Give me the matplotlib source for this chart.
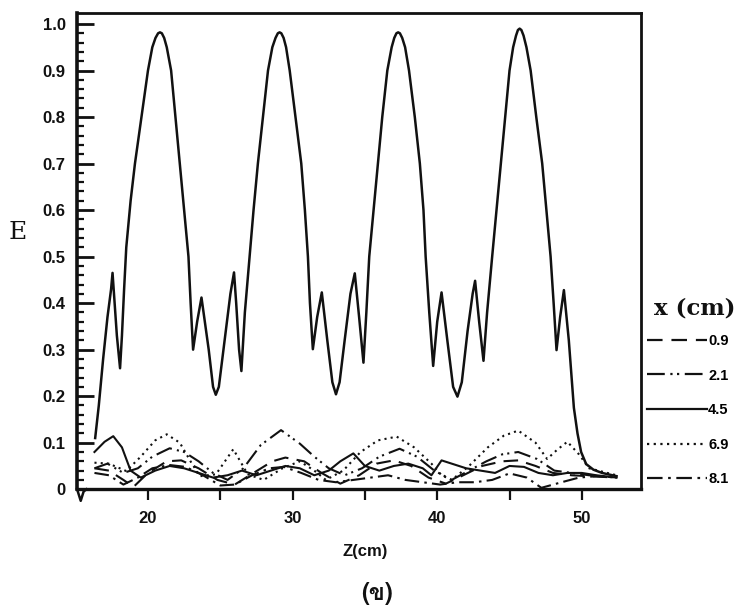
import matplotlib
matplotlib.use("Agg")
import matplotlib.pyplot as plt
from matplotlib.lines import Line2D
from matplotlib import font_manager, ft2font
import numpy as np

# ---------------- data ----------------
big_z = [16.35, 16.6, 16.9, 17.2, 17.45, 17.55, 17.65, 17.85, 18.07, 18.2, 18.35, 18.5, 18.8, 19.1, 19.55,
         20.0, 20.3, 20.52, 20.7, 20.83, 20.96, 21.12, 21.3, 21.6, 21.9, 22.2, 22.5, 22.8, 22.95, 23.12,
         23.4, 23.7, 24.2, 24.5, 24.69, 24.9, 25.3, 25.7, 25.95, 26.1, 26.3, 26.46, 26.7, 27.03, 27.3,
         27.6, 27.95, 28.3, 28.6, 28.82, 28.98, 29.1, 29.22, 29.38, 29.55, 29.8, 30.2, 30.6, 30.85, 31.06,
         31.2, 31.4, 31.7, 32.02, 32.4, 32.75, 33.0, 33.25, 33.6, 34.0, 34.3, 34.6, 34.9, 35.1, 35.3,
         35.6, 35.9, 36.2, 36.55, 36.85, 37.03, 37.18, 37.3, 37.42, 37.58, 37.78, 38.05, 38.45, 38.8,
         39.05, 39.2, 39.45, 39.72, 40.0, 40.3, 40.7, 41.1, 41.4, 41.7, 42.1, 42.45, 42.62, 42.9, 43.2,
         43.45, 43.8, 44.1, 44.4, 44.7, 45.0, 45.25, 45.45, 45.58, 45.7, 45.82, 45.97, 46.17, 46.46,
         46.85, 47.26, 47.55, 47.84, 48.05, 48.25, 48.5, 48.76, 49.1, 49.45, 49.7, 49.95, 50.3, 50.8,
         51.4, 52.4]
big_E = [0.11, 0.18, 0.28, 0.37, 0.43, 0.465, 0.42, 0.33, 0.26, 0.33, 0.43, 0.52, 0.62, 0.70, 0.80,
         0.90, 0.95, 0.97, 0.98, 0.982, 0.98, 0.97, 0.95, 0.90, 0.80, 0.70, 0.60, 0.50, 0.40, 0.30,
         0.36, 0.412, 0.30, 0.22, 0.203, 0.22, 0.32, 0.42, 0.466, 0.40, 0.30, 0.254, 0.38, 0.50, 0.60,
         0.70, 0.80, 0.90, 0.95, 0.97, 0.98, 0.982, 0.98, 0.97, 0.95, 0.90, 0.80, 0.70, 0.60, 0.50,
         0.40, 0.301, 0.37, 0.423, 0.32, 0.23, 0.204, 0.23, 0.32, 0.42, 0.464, 0.37, 0.272, 0.38, 0.50,
         0.60, 0.70, 0.80, 0.90, 0.95, 0.97, 0.98, 0.982, 0.98, 0.97, 0.95, 0.90, 0.80, 0.70,
         0.60, 0.50, 0.38, 0.265, 0.36, 0.423, 0.32, 0.22, 0.199, 0.23, 0.34, 0.42, 0.448, 0.36, 0.276,
         0.38, 0.50, 0.60, 0.70, 0.80, 0.90, 0.95, 0.975, 0.987, 0.99, 0.987, 0.975, 0.95, 0.90,
         0.80, 0.70, 0.60, 0.50, 0.40, 0.299, 0.37, 0.428, 0.32, 0.175, 0.12, 0.08, 0.054, 0.042,
         0.035, 0.028]

origin_z = [15.1, 15.35, 15.55, 15.75]
origin_E = [0.0, -0.025, -0.005, 0.0]

# small curves (x positions in cm)
z09 = [16.3, 17.3, 18.3, 19.0, 20.0, 21.3, 22.3, 23.5, 24.8, 26.0, 27.3, 28.6, 29.5, 30.8, 32.0, 33.3,
       34.6, 35.8, 37.0, 38.2, 39.4, 40.6, 41.8, 43.1, 44.5, 45.6, 46.8, 48.0, 49.3, 50.5, 52.4]
E09 = [0.045, 0.040, 0.020, 0.005, 0.035, 0.060, 0.062, 0.045, 0.020, 0.010, 0.035, 0.060, 0.068,
       0.060, 0.035, 0.012, 0.030, 0.055, 0.062, 0.050, 0.025, 0.012, 0.030, 0.050, 0.060, 0.062,
       0.050, 0.035, 0.030, 0.028, 0.025]
z21 = [16.3, 17.2, 18.3, 19.3, 20.3, 21.5, 22.5, 23.5, 24.5, 25.5, 26.6, 27.8, 29.2, 30.5, 31.5, 32.5,
       33.6, 34.8, 36.0, 37.4, 38.6, 39.8, 41.0, 42.2, 43.4, 44.5, 45.6, 46.9, 48.1, 49.3, 50.5, 52.4]
E21 = [0.045, 0.055, 0.035, 0.045, 0.070, 0.088, 0.080, 0.060, 0.035, 0.020, 0.045, 0.095, 0.127,
       0.098, 0.070, 0.045, 0.030, 0.045, 0.070, 0.087, 0.070, 0.040, 0.020, 0.040, 0.060, 0.075,
       0.080, 0.065, 0.040, 0.035, 0.030, 0.025]
z45 = [16.3, 17.0, 17.6, 18.2, 18.8, 19.5, 20.5, 21.5, 22.5, 23.5, 24.5, 25.5, 26.5, 27.5, 28.5, 29.5,
       30.5, 31.5, 32.5, 33.3, 34.2, 35.0, 36.0, 37.0, 38.0, 39.0, 39.6, 40.3, 41.0, 42.0, 43.0, 44.0,
       45.0, 46.0, 47.0, 48.0, 49.0, 50.0, 51.0, 52.4]
E45 = [0.080, 0.102, 0.114, 0.090, 0.040, 0.025, 0.040, 0.050, 0.045, 0.035, 0.025, 0.030, 0.040,
       0.030, 0.040, 0.050, 0.045, 0.030, 0.040, 0.060, 0.077, 0.050, 0.040, 0.050, 0.055, 0.045,
       0.030, 0.062, 0.055, 0.045, 0.040, 0.035, 0.050, 0.048, 0.035, 0.030, 0.035, 0.035, 0.030, 0.025]
z69 = [16.3, 17.3, 18.5, 19.5, 20.5, 21.3, 22.2, 23.0, 23.6, 24.7, 25.9, 26.9, 28.0, 29.3, 30.5, 31.5,
       32.3, 33.5, 34.7, 35.9, 37.2, 38.4, 39.6, 40.3, 41.0, 42.2, 43.5, 44.6, 45.6, 46.8, 47.6, 48.3,
       49.0, 49.8, 50.5, 52.4]
E69 = [0.057, 0.055, 0.039, 0.070, 0.105, 0.118, 0.100, 0.057, 0.028, 0.032, 0.086, 0.032, 0.020,
       0.045, 0.060, 0.040, 0.020, 0.040, 0.080, 0.105, 0.113, 0.090, 0.055, 0.030, 0.020, 0.050,
       0.090, 0.115, 0.126, 0.100, 0.065, 0.085, 0.102, 0.075, 0.045, 0.030]
z81 = [16.3, 17.3, 18.3, 19.3, 20.3, 21.5, 22.6, 23.8, 25.0, 26.0, 27.2, 28.4, 29.4, 30.6, 31.8, 33.0,
       34.2, 35.4, 36.6, 37.8, 39.0, 40.2, 41.4, 42.6, 43.8, 45.0, 46.2, 47.2, 48.6, 49.8, 51.0, 52.4]
E81 = [0.035, 0.030, 0.010, 0.025, 0.045, 0.052, 0.048, 0.030, 0.008, 0.010, 0.030, 0.045, 0.048,
       0.035, 0.020, 0.015, 0.020, 0.025, 0.030, 0.020, 0.015, 0.010, 0.015, 0.015, 0.020, 0.034,
       0.025, 0.003, 0.015, 0.025, 0.028, 0.025]

legend_labels = ["0.9", "2.1", "4.5", "6.9", "8.1"]
x_ticks = [20, 25, 30, 35, 40, 45, 50]
x_ticklabels = ["20", "", "30", "", "40", "", "50"]
y_ticks = [0, 0.1, 0.2, 0.3, 0.4, 0.5, 0.6, 0.7, 0.8, 0.9, 1.0]
y_ticklabels = ["0", "0.1", "0.2", "0.3", "0.4", "0.5", "0.6", "0.7", "0.8", "0.9", "1.0"]

# ---------------- fonts ----------------
def find_font_with(ch):
    for f in font_manager.fontManager.ttflist:
        try:
            cm = ft2font.FT2Font(f.fname).get_charmap()
        except Exception:
            continue
        if ord(ch) in cm:
            return f.name
    return None

thai_font = find_font_with("\u0e02")

sans = "Liberation Sans"
serif = "DejaVu Serif"
plt.rcParams["font.family"] = [sans, "DejaVu Sans"]

# ---------------- figure ----------------
fig = plt.figure(figsize=(7.4, 6.1), dpi=100)
ax = fig.add_axes([0.104, 0.198, 0.762, 0.781])
ink = "#111111"

styles = {
    "0.9": (0, (7, 4)),
    "2.1": (0, (8, 2.5, 1, 2, 1, 2.5)),
    "4.5": "-",
    "6.9": (0, (1, 2)),
    "8.1": (0, (7, 2.5, 1.2, 2.5)),
}

ax.plot(big_z, big_E, color=ink, lw=1.8, solid_joinstyle="round", zorder=5)
ax.plot(origin_z, origin_E, color=ink, lw=1.8, clip_on=False, zorder=5)
series = [(z09, E09, "0.9"), (z21, E21, "2.1"), (z45, E45, "4.5"), (z69, E69, "6.9"), (z81, E81, "8.1")]
for zz, ee, lab in series:
    ax.plot(zz, ee, color=ink, lw=1.5, linestyle=styles[lab])

ax.set_xlim(15.09, 54.08)
ax.set_ylim(0, 1.024)

for side, w in [("left", 2.6), ("bottom", 2.4), ("top", 2.0), ("right", 2.0)]:
    ax.spines[side].set_linewidth(w)
    ax.spines[side].set_color(ink)

ax.set_xticks(x_ticks)
ax.set_xticklabels(x_ticklabels)
ax.set_yticks(y_ticks)
ax.set_yticklabels(y_ticklabels)
ax.set_yticks(np.arange(0, 1.0001, 0.02), minor=True)
ax.tick_params(axis="x", direction="out", length=8, width=1.6, pad=8, colors=ink,
               labelsize=12)
ax.tick_params(axis="y", which="major", direction="in", length=12, width=2.0, pad=8,
               colors=ink, labelsize=12)
ax.tick_params(axis="y", which="minor", direction="in", length=5, width=1.6, colors=ink)
for t in ax.get_xticklabels() + ax.get_yticklabels():
    t.set_fontweight("bold")

ax.set_xlabel("Z(cm)", fontsize=12, fontweight="bold", labelpad=9, color=ink)
ax.xaxis.set_label_coords(0.512, -0.115)
ax.set_ylabel("E", fontsize=18, family=serif, rotation=0, color=ink, ha="center", va="center")
ax.yaxis.set_label_coords(-0.105, 0.538)

fig.text(0.51, 0.008, "(\u0e02)", ha="center", va="bottom", fontsize=17, fontweight="bold",
         family=[thai_font or "DejaVu Sans", "DejaVu Sans"], color=ink)

fig.text(0.884, 0.495, "x (cm)", ha="left", va="center", fontsize=16.5, fontweight="bold",
         family=serif, color=ink)

handles = [Line2D([], [], color=ink, lw=1.6, linestyle=styles[l]) for l in legend_labels]
leg = ax.legend(handles, legend_labels, loc="upper left", bbox_to_anchor=(0.874, 0.4525),
                bbox_transform=fig.transFigure, frameon=False, handlelength=4.1,
                handletextpad=0.1, labelspacing=1.41, borderpad=0, borderaxespad=0,
                prop={"family": sans, "weight": "bold", "size": 10.5})

fig.savefig("out.png", dpi=100, facecolor="white")
